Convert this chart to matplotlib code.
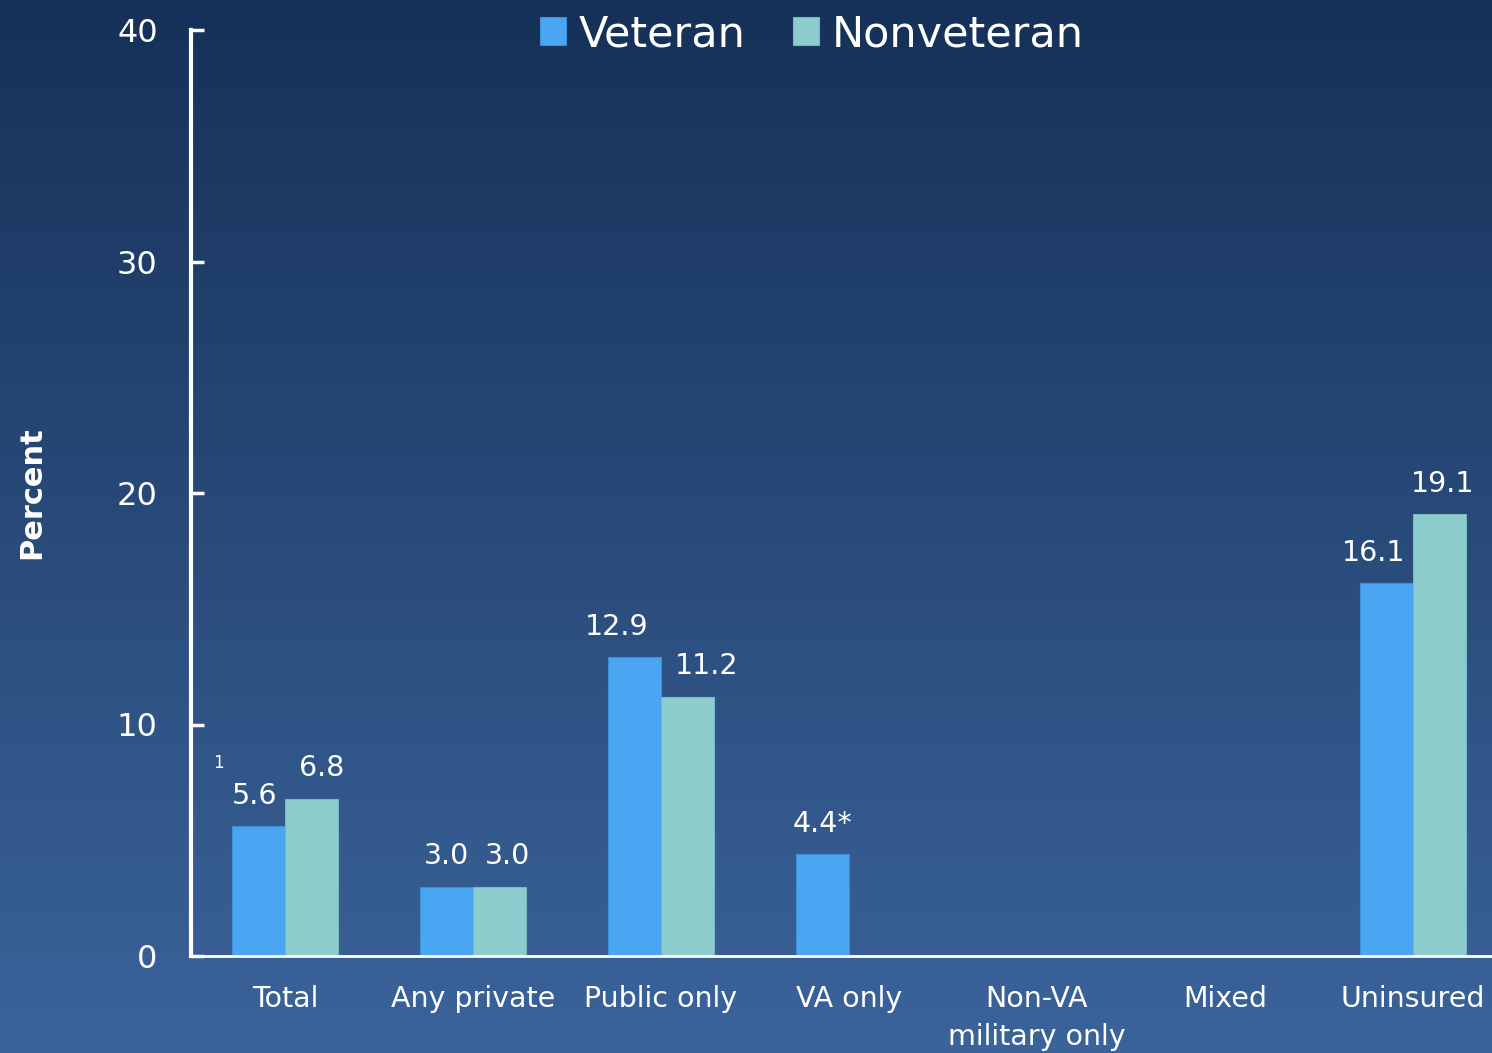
import numpy as np
import matplotlib
matplotlib.use("Agg")
import matplotlib.pyplot as plt

# data
categories = ["Total", "Any private", "Public only", "VA only",
              "Non-VA\nmilitary only", "Mixed", "Uninsured"]
veteran = [5.6, 3.0, 12.9, 4.4, np.nan, np.nan, 16.1]
nonveteran = [6.8, 3.0, 11.2, np.nan, np.nan, np.nan, 19.1]
vet_labels = ["5.6", "3.0", "12.9", "4.4*", "", "", "16.1"]
nonvet_labels = ["6.8", "3.0", "11.2", "", "", "", "19.1"]
yticks = [0, 10, 20, 30, 40]

# label nudges in points (left/right of bar centre)
vet_dx = [-3, 0, -13, 0, 0, 0, -9]
nonvet_dx = [7, 6, 14, 0, 0, 0, 2]

vet_color = "#4aa5f2"
nonvet_color = "#8ecdce"

plt.rcParams['font.family'] = ['DejaVu Sans']

fig = plt.figure(figsize=(14.92, 10.53), dpi=100)

# gradient background
bg = fig.add_axes([0, 0, 1, 1], zorder=0)
top = np.array([0.086, 0.192, 0.345])
bot = np.array([0.231, 0.392, 0.608])
t = np.linspace(0, 1, 256)[:, None]
grad = (top[None, :] * (1 - t) + bot[None, :] * t)[:, None, :]
bg.imshow(grad, aspect='auto', extent=[0, 1, 0, 1])
bg.axis('off')

ax = fig.add_axes([191/1492, 97/1053, 1 - 191/1492, 926/1053], zorder=1)
ax.patch.set_alpha(0)

x = np.arange(len(categories))
w = 0.282
ax.bar(x - w/2, veteran, w, color=vet_color, edgecolor="#3d8fd6", linewidth=0.8, label="Veteran")
ax.bar(x + w/2, nonveteran, w, color=nonvet_color, edgecolor="#7ab8bd", linewidth=0.8, label="Nonveteran")

for i in range(len(categories)):
    if vet_labels[i]:
        ax.annotate(vet_labels[i], (x[i] - w/2, veteran[i]), xytext=(vet_dx[i], 16),
                    textcoords='offset points', ha='center', va='baseline',
                    color='white', fontsize=20.5)
    if nonvet_labels[i]:
        ax.annotate(nonvet_labels[i], (x[i] + w/2, nonveteran[i]), xytext=(nonvet_dx[i], 16),
                    textcoords='offset points', ha='center', va='baseline',
                    color='white', fontsize=20.5)

# footnote marker on Total
ax.annotate("1", (x[0] - w, veteran[0]), xytext=(-10, 42), textcoords='offset points',
            ha='center', va='baseline', color='white', fontsize=12)

ax.set_xlim(-0.5, (1492 - 285) / 188)
ax.set_ylim(0, 40)
ax.set_yticks(yticks)
ax.set_xticks(x)
ax.set_xticklabels(categories)

for s in ['top', 'right']:
    ax.spines[s].set_visible(False)
ax.spines['left'].set_color('white')
ax.spines['left'].set_linewidth(3)
ax.spines['bottom'].set_color('white')
ax.spines['bottom'].set_linewidth(2)

ax.tick_params(axis='y', direction='in', length=9, width=2.5, color='white',
               labelcolor='white', labelsize=23, pad=24)
ax.tick_params(axis='x', length=0, labelcolor='white', labelsize=20.5, pad=21)
for lbl in ax.get_xticklabels():
    lbl.set_linespacing(1.45)

ax.set_ylabel("Percent", color='white', fontsize=22, fontweight='bold')
ax.yaxis.set_label_coords(-0.111, 0.5)

leg = ax.legend(loc='upper center', bbox_to_anchor=(0.477, 1.06), ncol=2, frameon=False,
                fontsize=31, labelcolor='white', handlelength=0.6, handleheight=0.6,
                handletextpad=0.3, columnspacing=1.1)

fig.savefig("out.png", dpi=100)
